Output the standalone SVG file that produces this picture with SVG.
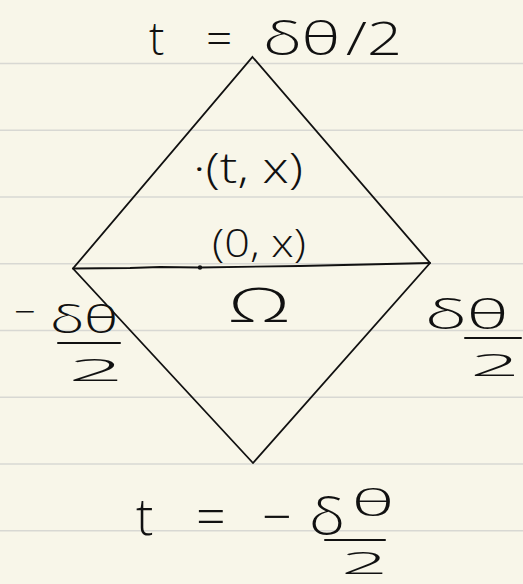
<svg xmlns="http://www.w3.org/2000/svg" width="523" height="584" viewBox="0 0 523 584">
<style>
.rule{stroke:#d8d8d3;stroke-width:1.6;fill:none}
.ink{stroke:#111;stroke-width:1.8;fill:none;stroke-linecap:round;stroke-linejoin:miter}
.bar{stroke:#111;stroke-width:2;fill:none;stroke-linecap:round}
.hw{font-family:"Open Sans","DejaVu Sans",sans-serif;font-weight:300;fill:#111}
</style>
<rect width="523" height="584" fill="#f8f6e9"/>
<g id="ruling">
<line class="rule" x1="0" y1="63.5" x2="523" y2="63.5"/>
<line class="rule" x1="0" y1="130.3" x2="523" y2="130.3"/>
<line class="rule" x1="0" y1="197" x2="523" y2="197"/>
<line class="rule" x1="0" y1="263.8" x2="523" y2="263.8"/>
<line class="rule" x1="0" y1="330.5" x2="523" y2="330.5"/>
<line class="rule" x1="0" y1="397.3" x2="523" y2="397.3"/>
<line class="rule" x1="0" y1="464" x2="523" y2="464"/>
<line class="rule" x1="0" y1="530.8" x2="523" y2="530.8"/>
</g>
<g id="diamond">
<polygon class="ink" points="252.5,57 430,263 253,463 73,268.5"/>
</g>
<g id="connectors">
<path class="ink" d="M73,268.5 L130,268 L160,267 L200,267.5 L300,266 L430,263"/>
<circle cx="200" cy="267.5" r="2.2" fill="#111"/>
</g>
<g id="label-top">
<text class="hw" y="55" font-size="46"><tspan x="149">t</tspan><tspan x="206">=</tspan><tspan x="263" textLength="77" lengthAdjust="spacingAndGlyphs">δθ</tspan><tspan x="346" textLength="56" lengthAdjust="spacingAndGlyphs">/2</tspan></text>
</g>
<g id="label-tx">
<text class="hw" x="193" y="183" font-size="42" textLength="110" lengthAdjust="spacingAndGlyphs">·(t, x)</text>
</g>
<g id="label-0x">
<text class="hw" x="212" y="257" font-size="38" textLength="94" lengthAdjust="spacingAndGlyphs">(0, x)</text>
</g>
<g id="label-omega">
<text class="hw" x="228" y="322" font-size="48" textLength="62" lengthAdjust="spacingAndGlyphs">Ω</text>
</g>
<g id="label-left">
<text class="hw" x="14" y="325" font-size="38">−</text>
<text class="hw" x="50" y="333" font-size="38" textLength="68" lengthAdjust="spacingAndGlyphs">δθ</text>
<line class="bar" x1="58" y1="343" x2="120" y2="343"/>
<text class="hw" x="68" y="381" font-size="32" textLength="56" lengthAdjust="spacingAndGlyphs">2</text>
</g>
<g id="label-right">
<text class="hw" x="425" y="329" font-size="40" textLength="83" lengthAdjust="spacingAndGlyphs">δθ</text>
<line class="bar" x1="465" y1="338" x2="521" y2="338"/>
<text class="hw" x="470" y="376" font-size="32" textLength="50" lengthAdjust="spacingAndGlyphs">2</text>
</g>
<g id="label-bottom">
<text class="hw" y="535" font-size="52"><tspan x="136">t</tspan><tspan x="196">=</tspan><tspan x="262">−</tspan><tspan x="309" textLength="36" lengthAdjust="spacingAndGlyphs">δ</tspan></text>
<text class="hw" x="352" y="516" font-size="36" textLength="42" lengthAdjust="spacingAndGlyphs">θ</text>
<line class="bar" x1="325" y1="540" x2="385" y2="540"/>
<text class="hw" x="341" y="574" font-size="32" textLength="47" lengthAdjust="spacingAndGlyphs">2</text>
</g>
</svg>
